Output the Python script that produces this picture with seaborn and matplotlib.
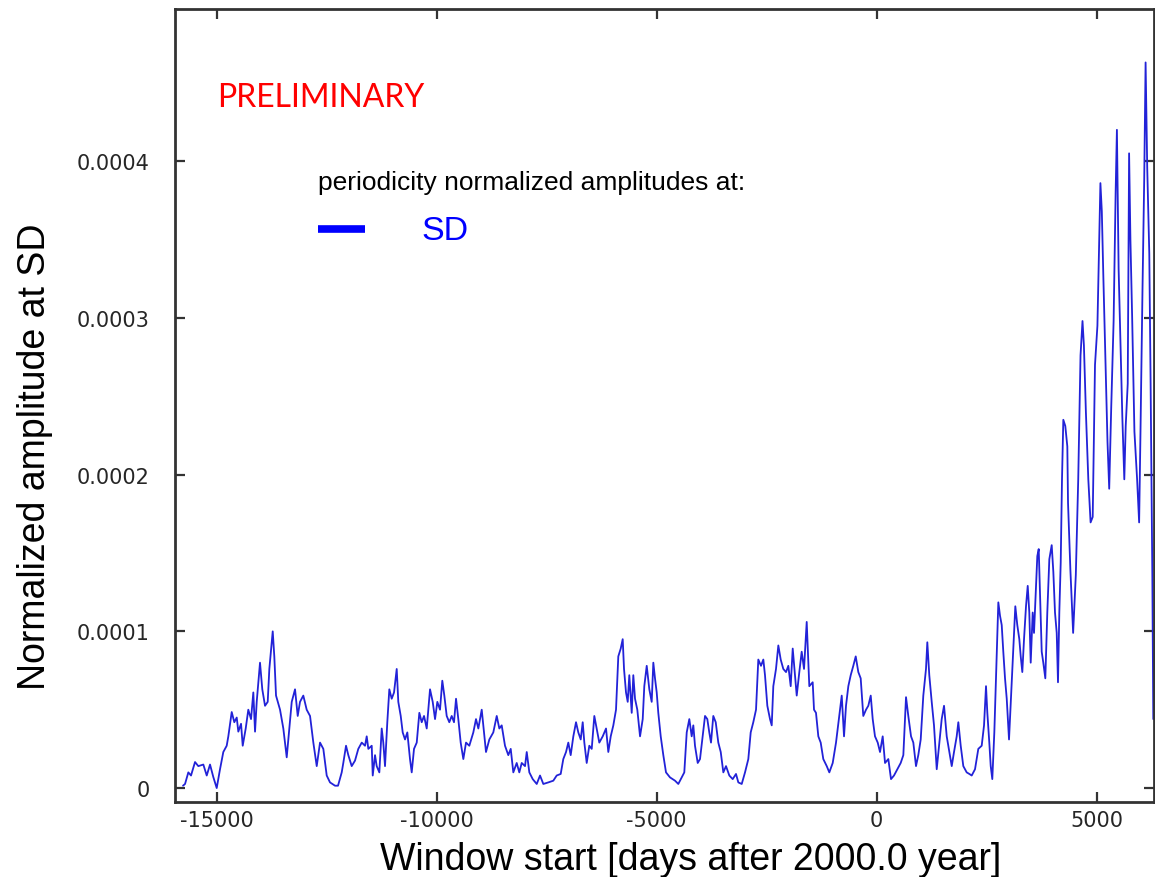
import matplotlib
matplotlib.use("Agg")
import matplotlib.pyplot as plt
import numpy as np
import pandas as pd
import seaborn as sns

# Window start (days after 2000.0) and normalized amplitude at SD (units of 1e-5),
# split into consecutive stretches of the record.
days_a = [-15766, -15720, -15645, -15584, -15493, -15418, -15304, -15227, -15152, -15077,
          -15000, -14925, -14850, -14773, -14736, -14659, -14600, -14545, -14509, -14447,
          -14409, -14341, -14282, -14220, -14168, -14129, -14091, -14016, -13964, -13902,
          -13841, -13804, -13750, -13727, -13691, -13652, -13561, -13486, -13409, -13350,
          -13295, -13220, -13159, -13107, -13032, -12955, -12879, -12804, -12727, -12652,
          -12577, -12500, -12425, -12311]
amp_a = [0.15, 0.26, 1.0, 0.8, 1.66, 1.4, 1.5, 0.8, 1.5, 0.7,
         0.0, 1.2, 2.3, 2.7, 3.3, 4.85, 4.2, 4.5, 3.6, 4.1,
         2.7, 3.8, 5.0, 4.4, 6.1, 3.6, 5.5, 8.0, 6.3, 5.25,
         5.5, 7.6, 9.3, 10.0, 8.4, 5.9, 5.0, 3.8, 1.96, 3.8,
         5.5, 6.3, 4.6, 5.5, 5.9, 5.0, 4.6, 2.9, 1.4, 2.9,
         2.5, 0.8, 0.36, 0.15]

days_b = [-12243, -12159, -12123, -12061, -12009, -11932, -11857, -11782, -11704, -11629,
          -11591, -11554, -11477, -11454, -11402, -11364, -11304, -11250, -11214, -11175,
          -11123, -11077, -11023, -10970, -10909, -10873, -10818, -10773, -10720, -10668,
          -10607, -10568, -10516, -10454, -10395, -10341, -10288, -10227, -10152, -10091,
          -10038, -9986, -9925, -9873, -9827, -9773, -9714, -9659, -9607, -9561,
          -9509, -9455, -9395, -9334, -9259, -9168, -9107, -9054, -8977, -8925,
          -8880, -8804]
amp_b = [0.15, 1.0, 1.6, 2.7, 2.1, 1.4, 1.75, 2.5, 2.9, 2.7,
         3.3, 2.5, 2.7, 0.8, 2.1, 1.4, 1.0, 3.8, 2.9, 1.4,
         4.2, 6.3, 5.7, 6.1, 7.6, 5.5, 4.6, 3.55, 3.1, 3.55,
         1.85, 1.0, 2.5, 2.9, 4.8, 4.2, 4.6, 3.8, 6.3, 5.5,
         4.4, 5.5, 5.0, 6.85, 5.9, 4.6, 4.2, 4.6, 4.2, 5.7,
         4.4, 2.9, 1.85, 2.9, 2.7, 3.55, 4.4, 3.8, 5.0, 3.55,
         2.3, 3.1]

days_c = [-8714, -8636, -8577, -8523, -8448, -8373, -8318, -8259, -8182, -8123,
          -8068, -7993, -7954, -7895, -7818, -7727, -7652, -7577, -7464, -7350,
          -7273, -7182, -7123, -7061, -7009, -6955, -6895, -6834, -6782, -6727,
          -6682, -6645, -6591, -6532, -6477, -6418, -6364, -6305, -6227, -6152,
          -6100, -6045, -5986, -5925, -5873, -5818, -5773, -5743, -5698, -5659,
          -5623, -5568, -5532, -5493, -5441, -5379, -5318, -5282, -5227, -5168]
amp_c = [3.55, 4.6, 3.8, 4.0, 2.7, 2.1, 2.5, 1.0, 1.6, 1.0,
         1.6, 1.4, 2.3, 1.0, 0.57, 0.26, 0.8, 0.26, 0.36, 0.47,
         0.8, 0.9, 1.85, 2.3, 2.9, 2.1, 3.3, 4.2, 3.55, 3.1,
         4.2, 2.9, 1.6, 2.7, 2.5, 4.6, 3.8, 2.9, 3.3, 3.8,
         2.3, 3.3, 4.0, 5.0, 8.4, 8.9, 9.5, 7.6, 6.1, 5.5,
         7.2, 4.8, 7.2, 5.7, 5.0, 3.3, 4.4, 6.5, 7.8, 6.3]

days_d = [-5114, -5077, -5039, -5000, -4964, -4909, -4850, -4789, -4698, -4584,
          -4509, -4432, -4373, -4318, -4259, -4205, -4168, -4130, -4068, -4016,
          -3955, -3902, -3850, -3805, -3766, -3714, -3659, -3600, -3545, -3486,
          -3425, -3350, -3273, -3198, -3145, -3068, -2993, -2918, -2864, -2805,
          -2743, -2691, -2630, -2577, -2539, -2486, -2425, -2386, -2350, -2289,
          -2236, -2182, -2123, -2061, -2009, -1955, -1909, -1857, -1818, -1759,
          -1705, -1652, -1591, -1532]
amp_d = [5.5, 8.0, 7.0, 6.1, 4.8, 3.3, 2.1, 1.0, 0.68, 0.47,
         0.26, 0.68, 1.0, 3.55, 4.4, 3.3, 4.0, 2.7, 1.6, 1.85,
         3.3, 4.6, 4.4, 3.55, 2.9, 4.6, 4.2, 2.9, 2.3, 1.0,
         1.4, 0.8, 0.57, 0.9, 0.36, 0.26, 1.0, 1.85, 3.55, 4.2,
         5.0, 8.2, 7.8, 8.2, 7.2, 5.25, 4.4, 4.0, 6.5, 7.6,
         9.1, 8.2, 7.6, 7.4, 7.8, 6.5, 8.9, 7.2, 5.9, 7.4,
         8.7, 7.6, 10.6, 6.5]

days_e = [-1455, -1425, -1380, -1327, -1273, -1214, -1136, -1077, -1000, -925,
          -850, -795, -743, -698, -645, -591, -532, -477, -418, -364,
          -305, -243, -191, -136, -91, -39, 23, 75, 136, 189,
          264, 325, 393, 468, 545, 605, 666, 718, 780, 832,
          893, 945, 1000, 1059, 1120, 1150, 1195, 1250, 1302, 1364,
          1423, 1477, 1530, 1591, 1650, 1705, 1757, 1818, 1855, 1909,
          1968, 2045, 2105]
amp_e = [6.75, 5.0, 4.8, 3.3, 2.9, 1.85, 1.4, 1.0, 1.6, 2.9,
         4.6, 5.9, 3.3, 5.25, 6.5, 7.2, 7.8, 8.4, 7.4, 7.0,
         4.6, 5.0, 5.25, 5.9, 4.4, 3.3, 2.9, 2.3, 3.3, 1.6,
         1.85, 0.57, 0.8, 1.2, 1.6, 2.1, 5.8, 4.6, 3.3, 2.9,
         1.4, 2.1, 3.1, 5.9, 7.6, 9.3, 7.2, 5.5, 4.0, 1.2,
         2.9, 4.4, 5.25, 3.3, 2.3, 1.4, 2.3, 3.3, 4.2, 2.7,
         1.4, 1.0, 0.9]

days_f = [2159, 2234, 2309, 2386, 2439, 2484, 2514, 2559, 2591, 2627,
          2673, 2711, 2764, 2802, 2841, 2877, 2916, 2955, 3007, 3068,
          3105, 3150, 3195, 3241, 3273, 3309, 3348, 3393, 3432, 3468,
          3500, 3545, 3575, 3620, 3650, 3682, 3711, 3750, 3786, 3832,
          3877, 3923, 3977, 4014, 4052, 4091, 4120, 4150, 4182, 4211,
          4241, 4286, 4332]
amp_f = [0.8, 1.2, 2.5, 2.7, 4.0, 6.5, 4.8, 2.9, 1.4, 0.57,
         3.55, 7.0, 11.85, 11.0, 10.4, 8.7, 7.0, 5.7, 3.1, 6.75,
         9.1, 11.6, 10.4, 9.5, 8.4, 7.4, 9.5, 11.6, 12.9, 11.2,
         8.0, 11.2, 9.9, 12.9, 14.8, 15.25, 12.5, 8.7, 8.0, 7.0,
         11.2, 14.6, 15.5, 13.8, 11.2, 9.9, 6.75, 11.2, 14.4, 19.7,
         23.5, 23.1, 21.8]

days_g = [4348, 4402, 4464, 4525, 4580, 4632, 4677, 4709, 4754, 4809,
          4861, 4909, 4961, 5016, 5052, 5084, 5116, 5152, 5191, 5245,
          5284, 5330, 5384, 5430, 5459, 5498, 5536, 5582, 5627, 5659,
          5705, 5736, 5766, 5805, 5857, 5918, 5964, 5995, 6041, 6080,
          6111, 6148, 6195, 6225, 6264, 6286]
amp_g = [18.2, 13.9, 9.9, 13.6, 19.7, 27.6, 29.8, 28.25, 24.0, 19.7,
         16.95, 17.3, 27.0, 29.5, 34.4, 38.6, 36.8, 32.5, 28.25, 22.1,
         19.1, 24.3, 29.8, 38.0, 42.0, 33.1, 28.9, 23.7, 19.7, 23.1,
         25.8, 40.5, 35.0, 30.1, 22.75, 19.7, 16.95, 22.75, 31.9, 38.9,
         46.3, 39.6, 34.1, 25.8, 13.6, 4.4]

x_ticks = [-15000, -10000, -5000, 0, 5000]
x_tick_labels = ["-15000", "-10000", "-5000", "0", "5000"]
y_ticks = [0.0, 0.0001, 0.0002, 0.0003, 0.0004]
y_tick_labels = ["0", "0.0001", "0.0002", "0.0003", "0.0004"]

df = pd.DataFrame({
    "day": days_a + days_b + days_c + days_d + days_e + days_f + days_g,
    "amp": np.array(amp_a + amp_b + amp_c + amp_d + amp_e + amp_f + amp_g) * 1e-5,
})

sns.set_style("ticks")
plt.rcParams["font.family"] = ["Liberation Sans", "DejaVu Sans"]
plt.rcParams["axes.unicode_minus"] = False

W, H = 1155, 878
fig = plt.figure(figsize=(W / 100, H / 100), dpi=100)
ax = fig.add_axes([175 / W, (H - 803) / H, (1154 - 175) / W, (803 - 10) / H])

sns.lineplot(data=df, x="day", y="amp", ax=ax, color="#2222d8", linewidth=1.3,
             sort=False, estimator=None, legend=False)

ax.set_xlim(-15948, 6302)
ax.set_ylim(-0.0000089, 0.0004971)
ax.set_xticks(x_ticks)
ax.set_xticklabels(x_tick_labels)
ax.set_yticks(y_ticks)
ax.set_yticklabels(y_tick_labels)
ax.set_xlabel("")
ax.set_ylabel("")

ax.tick_params(axis="both", direction="in", length=7, width=1.6, color="#333333",
               top=True, right=True, labelsize=15, labelcolor="#262626")
ax.tick_params(axis="y", pad=18)
ax.tick_params(axis="x", pad=6)
for lab in ax.get_xticklabels() + ax.get_yticklabels():
    lab.set_family("DejaVu Sans")
for sp in ax.spines.values():
    sp.set_visible(True)
    sp.set_linewidth(2.0)
    sp.set_color("#333333")

# axis titles
fig.text(691 / W, 1 - 870 / H, "Window start [days after 2000.0 year]",
         fontsize=27, color="black", ha="center", va="baseline")
fig.text(45 / W, 1 - 457 / H, "Normalized amplitude at SD", fontsize=27,
         color="black", rotation=90, rotation_mode="anchor",
         ha="center", va="baseline")

# watermark
fig.text(217 / W, 1 - 107 / H, "PRELIMINARY", fontsize=23, color="#ff0000",
         family="Lato", ha="left", va="baseline")

# legend block: heading, key line and series name
fig.text(318 / W, 1 - 190 / H, "periodicity normalized amplitudes at:",
         fontsize=19, color="black", ha="left", va="baseline")
ax.plot([318 / W, 365 / W], [1 - 230 / H, 1 - 230 / H], transform=fig.transFigure,
        color="#0000ff", linewidth=5.5, solid_capstyle="butt", clip_on=False)
fig.text(421 / W, 1 - 239.5 / H, "SD", fontsize=24.5, color="#0000ff",
         ha="left", va="baseline")

fig.savefig("out.png", dpi=100)
